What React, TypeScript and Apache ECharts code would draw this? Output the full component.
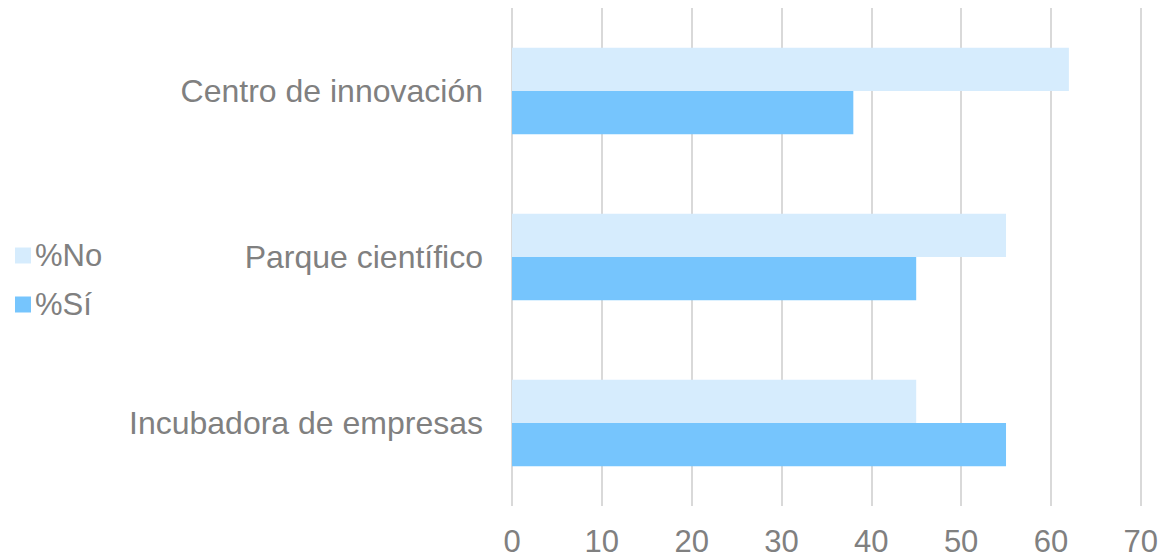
import React, { useEffect, useRef } from "react";
import * as echarts from "echarts";

const categories = ["Incubadora de empresas", "Parque científico", "Centro de innovación"];
const seriesNames = ["%No", "%Sí"];
const valuesNo = [45, 55, 62];
const valuesSi = [55, 45, 38];
const xTicks = [0, 10, 20, 30, 40, 50, 60, 70];

export default function App() {
  const ref = useRef<HTMLDivElement>(null);
  useEffect(() => {
    if (!ref.current) return;
    const chart = echarts.init(ref.current, null, { renderer: "svg" });
    const font = "'Liberation Sans', Arial, sans-serif";
    chart.setOption({
      animation: false,
      grid: { left: 512, right: 19, top: 8, bottom: 52, containLabel: false },
      legend: {
        orient: "vertical",
        left: 10,
        top: 235,
        itemWidth: 16,
        itemHeight: 16,
        itemGap: 18,
        icon: "rect",
        data: seriesNames,
        textStyle: { color: "#808080", fontSize: 31, fontFamily: font, padding: [0, 0, 0, -1] },
      },
      xAxis: {
        type: "value",
        min: xTicks[0],
        max: xTicks[xTicks.length - 1],
        interval: 10,
        axisLine: { show: false },
        axisTick: { show: false },
        splitLine: { show: true, lineStyle: { color: "#d9d9d9", width: 2 } },
        axisLabel: { color: "#808080", fontSize: 31, lineHeight: 30, fontFamily: font, margin: 20 },
      },
      yAxis: {
        type: "category",
        data: categories,
        axisLine: { show: false },
        axisTick: { show: false },
        axisLabel: { color: "#808080", fontSize: 32, fontFamily: font, margin: 29 },
      },
      series: [
        {
          name: seriesNames[0],
          type: "bar",
          data: valuesNo,
          itemStyle: { color: "#D6ECFD" },
          barGap: "0%",
          barCategoryGap: "48%",
        },
        {
          name: seriesNames[1],
          type: "bar",
          data: valuesSi,
          itemStyle: { color: "#76C5FD" },
          barGap: "0%",
          barCategoryGap: "48%",
        },
      ],
    });
    return () => chart.dispose();
  }, []);
  return <div ref={ref} style={{ width: 1161, height: 558, position: "absolute", left: 0, top: 0 }} />;
}
